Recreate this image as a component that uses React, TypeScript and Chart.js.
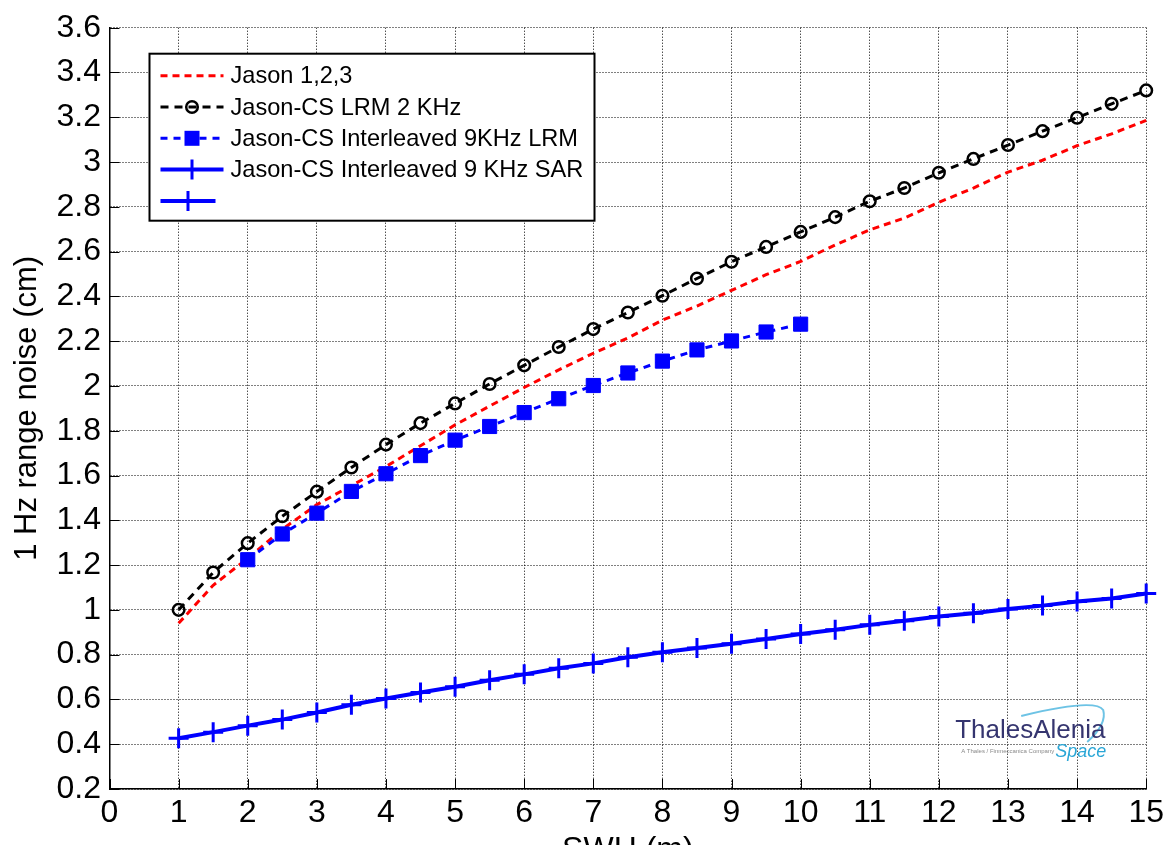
import React, { useEffect, useRef } from 'react';
import { Chart, registerables } from 'chart.js';

Chart.register(...registerables);

// ---------- data ----------
const swh = [1, 1.5, 2, 2.5, 3, 3.5, 4, 4.5, 5, 5.5, 6, 6.5, 7, 7.5, 8, 8.5, 9, 9.5, 10, 10.5, 11, 11.5, 12, 12.5, 13, 13.5, 14, 14.5, 15];
const jason123 = [0.94, 1.11, 1.23, 1.36, 1.47, 1.555, 1.64, 1.733, 1.826, 1.91, 1.993, 2.072, 2.146, 2.214, 2.294, 2.357, 2.427, 2.497, 2.556, 2.63, 2.697, 2.75, 2.82, 2.884, 2.955, 3.008, 3.073, 3.126, 3.186];
const jasonCsLrm2k = [1.0, 1.167, 1.298, 1.418, 1.528, 1.636, 1.738, 1.834, 1.922, 2.009, 2.092, 2.174, 2.254, 2.328, 2.403, 2.48, 2.555, 2.621, 2.688, 2.754, 2.825, 2.884, 2.952, 3.014, 3.076, 3.138, 3.198, 3.26, 3.32];
const swhInterleavedLrm = [2, 2.5, 3, 3.5, 4, 4.5, 5, 5.5, 6, 6.5, 7, 7.5, 8, 8.5, 9, 9.5, 10];
const interleavedLrm9k = [1.224, 1.339, 1.432, 1.529, 1.608, 1.689, 1.758, 1.819, 1.881, 1.943, 2.002, 2.058, 2.111, 2.161, 2.201, 2.241, 2.276];
const interleavedSar9k = [0.427, 0.454, 0.483, 0.51, 0.542, 0.576, 0.604, 0.631, 0.657, 0.686, 0.712, 0.739, 0.761, 0.788, 0.811, 0.83, 0.849, 0.87, 0.892, 0.911, 0.933, 0.951, 0.97, 0.985, 1.004, 1.019, 1.037, 1.051, 1.073];

const xTickLabels = ['0', '1', '2', '3', '4', '5', '6', '7', '8', '9', '10', '11', '12', '13', '14', '15'];
const yTickLabels = ['0.2', '0.4', '0.6', '0.8', '1', '1.2', '1.4', '1.6', '1.8', '2', '2.2', '2.4', '2.6', '2.8', '3', '3.2', '3.4', '3.6'];
const legendLabels = ['Jason 1,2,3', 'Jason-CS LRM 2 KHz', 'Jason-CS Interleaved 9KHz LRM', 'Jason-CS Interleaved 9 KHz SAR', ''];
const xTitle = 'SWH (m)';
const yTitle = '1 Hz range noise (cm)';

const FONT = "'Liberation Sans', Arial, Helvetica, sans-serif";
const RED = '#ff0000';
const BLUE = '#0000ff';
const BLACK = '#000000';

const toPoints = (xs: number[], ys: number[]) => xs.map((x, i) => ({ x, y: ys[i] }));

type LegendStyle = {
  color: string;
  width: number;
  dash: number[];
  marker: 'none' | 'circle' | 'rect' | 'cross';
  lineLen: number;
};

const legendStyles: LegendStyle[] = [
  { color: RED, width: 3, dash: [7, 5], marker: 'none', lineLen: 63 },
  { color: BLACK, width: 3, dash: [8, 6], marker: 'circle', lineLen: 63 },
  { color: BLUE, width: 3, dash: [7, 6], marker: 'rect', lineLen: 63 },
  { color: BLUE, width: 4, dash: [], marker: 'cross', lineLen: 63 },
  { color: BLUE, width: 4, dash: [], marker: 'cross', lineLen: 55 },
];

function drawMarker(ctx: CanvasRenderingContext2D, kind: string, x: number, y: number, color: string) {
  ctx.save();
  ctx.setLineDash([]);
  if (kind === 'circle') {
    ctx.strokeStyle = color;
    ctx.lineWidth = 2.5;
    ctx.beginPath();
    ctx.arc(x, y, 5.8, 0, Math.PI * 2);
    ctx.stroke();
  } else if (kind === 'rect') {
    ctx.fillStyle = color;
    ctx.fillRect(x - 7.5, y - 7.5, 15, 15);
  } else if (kind === 'cross') {
    ctx.strokeStyle = color;
    ctx.lineWidth = 3;
    ctx.beginPath();
    ctx.moveTo(x, y - 10);
    ctx.lineTo(x, y + 10);
    ctx.moveTo(x - 9, y);
    ctx.lineTo(x + 9, y);
    ctx.stroke();
  }
  ctx.restore();
}

const decorPlugin = {
  id: 'decor',
  afterDraw(chart: any) {
    const { ctx, chartArea, scales } = chart;
    const xs = scales.x;
    const ys = scales.y;
    ctx.save();
    // inward tick marks
    ctx.strokeStyle = '#000';
    ctx.lineWidth = 1;
    ctx.setLineDash([]);
    ctx.beginPath();
    xs.ticks.forEach((t: any) => {
      const px = Math.round(xs.getPixelForValue(t.value)) + 0.5;
      ctx.moveTo(px, chartArea.bottom);
      ctx.lineTo(px, chartArea.bottom - 10);
    });
    ys.ticks.forEach((t: any) => {
      const py = Math.round(ys.getPixelForValue(t.value)) + 0.5;
      ctx.moveTo(chartArea.left, py);
      ctx.lineTo(chartArea.left + 10, py);
    });
    ctx.stroke();

    // legend box
    const lx = chartArea.left + 40;
    const ly = chartArea.top + 26;
    const lw = 445;
    const lh = 167;
    ctx.fillStyle = '#fff';
    ctx.fillRect(lx, ly, lw, lh);
    ctx.strokeStyle = '#000';
    ctx.lineWidth = 2;
    ctx.strokeRect(lx, ly, lw, lh);
    ctx.font = `23.6px ${FONT}`;
    ctx.textBaseline = 'middle';
    ctx.textAlign = 'left';
    legendLabels.forEach((label, i) => {
      const st = legendStyles[i];
      const ry = ly + 22 + i * 31.3;
      const x0 = lx + 11;
      const x1 = x0 + st.lineLen;
      ctx.save();
      ctx.strokeStyle = st.color;
      ctx.lineWidth = st.width;
      ctx.setLineDash(st.dash);
      ctx.beginPath();
      ctx.moveTo(x0, ry);
      ctx.lineTo(x1, ry);
      ctx.stroke();
      ctx.restore();
      if (st.marker !== 'none') drawMarker(ctx, st.marker, (x0 + x1) / 2, ry, st.color);
      ctx.fillStyle = '#000';
      ctx.fillText(label, lx + 81, ry + 1);
    });

    // logo
    const gx = chartArea.right - 191;
    const gy = chartArea.bottom - 51;
    ctx.strokeStyle = 'rgba(60,175,220,0.75)';
    ctx.lineWidth = 2;
    ctx.beginPath();
    ctx.moveTo(gx + 66, gy - 22);
    ctx.quadraticCurveTo(gx + 140, gy - 40, gx + 148, gy - 28);
    ctx.quadraticCurveTo(gx + 152, gy - 14, gx + 132, gy + 4);
    ctx.stroke();
    ctx.fillStyle = '#35356f';
    ctx.font = `26px ${FONT}`;
    ctx.textBaseline = 'alphabetic';
    ctx.fillText('ThalesAlenia', gx, gy);
    ctx.fillStyle = '#2aa6d6';
    ctx.font = `italic 18px ${FONT}`;
    ctx.fillText('Space', gx + 100, gy + 19);
    ctx.fillStyle = '#888';
    ctx.font = `6px ${FONT}`;
    ctx.fillText('A Thales / Finmeccanica Company', gx + 6, gy + 15);
    ctx.restore();
  },
};

export default function App() {
  const ref = useRef<HTMLCanvasElement>(null);
  useEffect(() => {
    if (!ref.current) return;
    Chart.defaults.font.family = FONT;
    const chart = new Chart(ref.current, {
      type: 'line',
      data: {
        datasets: [
          {
            label: legendLabels[0],
            data: toPoints(swh, jason123),
            borderColor: RED,
            borderWidth: 3,
            borderDash: [7, 5],
            pointRadius: 0,
            tension: 0,
            clip: false,
            order: 4,
          },
          {
            label: legendLabels[1],
            data: toPoints(swh, jasonCsLrm2k),
            borderColor: BLACK,
            borderWidth: 3,
            borderDash: [8, 6],
            pointStyle: 'circle',
            pointRadius: 5.8,
            pointBorderWidth: 2.5,
            pointBorderColor: BLACK,
            pointBackgroundColor: 'rgba(0,0,0,0)',
            tension: 0,
            clip: false,
            order: 3,
          },
          {
            label: legendLabels[2],
            data: toPoints(swhInterleavedLrm, interleavedLrm9k),
            borderColor: BLUE,
            borderWidth: 3,
            borderDash: [7, 6],
            pointStyle: 'rect',
            pointRadius: 10,
            pointBorderWidth: 1,
            pointBorderColor: BLUE,
            pointBackgroundColor: BLUE,
            tension: 0,
            clip: false,
            order: 2,
          },
          {
            label: legendLabels[3],
            data: toPoints(swh, interleavedSar9k),
            borderColor: BLUE,
            borderWidth: 4,
            pointStyle: 'cross',
            pointRadius: 10,
            pointBorderWidth: 3,
            pointBorderColor: BLUE,
            pointBackgroundColor: BLUE,
            tension: 0,
            clip: false,
            order: 1,
          },
        ],
      },
      options: {
        animation: false,
        responsive: false,
        devicePixelRatio: 1,
        events: [],
        layout: { padding: { left: 0, right: 21.5, top: 21, bottom: 0 } },
        plugins: {
          legend: { display: false },
          tooltip: { enabled: false },
          title: { display: false },
        },
        scales: {
          x: {
            type: 'linear',
            min: 0,
            max: 15,
            afterFit: (s: any) => {
              s.height = 56;
            },
            ticks: {
              stepSize: 1,
              autoSkip: false,
              maxRotation: 0,
              padding: 5,
              color: '#000',
              font: { size: 32, family: FONT },
              callback: (_v: any, i: number) => xTickLabels[i],
            },
            grid: { color: '#000', lineWidth: 1, drawTicks: false },
            border: { display: true, color: '#000', width: 1.5, dash: [1, 2] },
            title: {
              display: true,
              text: xTitle,
              color: '#000',
              font: { size: 32, family: FONT },
              padding: { top: 0, bottom: -24 },
            },
          },
          y: {
            type: 'linear',
            min: 0.2,
            max: 3.6,
            afterFit: (s: any) => {
              s.width = 109.5;
            },
            ticks: {
              stepSize: 0.2,
              autoSkip: false,
              padding: 8.5,
              color: '#000',
              font: { size: 32, family: FONT },
              callback: (_v: any, i: number) => yTickLabels[i],
            },
            grid: { color: '#000', lineWidth: 1, drawTicks: false },
            border: { display: true, color: '#000', width: 1.5, dash: [1, 2] },
            title: {
              display: true,
              text: yTitle,
              color: '#000',
              font: { size: 31, family: FONT },
              padding: { top: 8.4, bottom: 0 },
            },
          },
        },
      },
      plugins: [decorPlugin],
    } as any);
    return () => chart.destroy();
  }, []);
  return (
    <div style={{ position: 'absolute', left: 0, top: 0, width: 1169, height: 845, background: '#fff', overflow: 'hidden' }}>
      <canvas ref={ref} width={1169} height={845} style={{ display: 'block', width: 1169, height: 845 }} />
    </div>
  );
}
